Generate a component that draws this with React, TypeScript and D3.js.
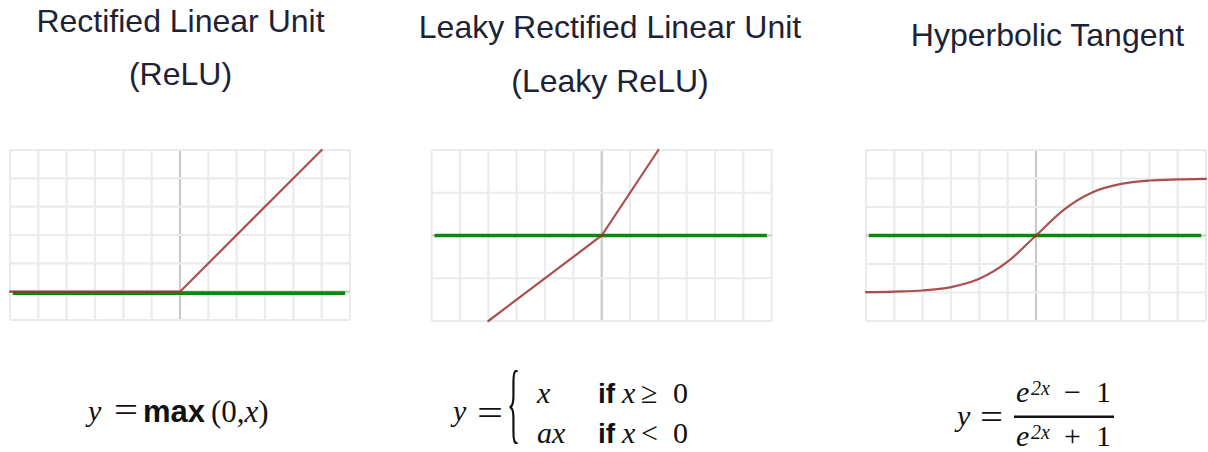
import React from "react";
import * as d3 from "d3";

// Panel titles
const titleLines: string[][] = [
  ["Rectified Linear Unit", "(ReLU)"],
  ["Leaky Rectified Linear Unit", "(Leaky ReLU)"],
  ["Hyperbolic Tangent"],
];

// Curve samples (x, y) for each activation
const reluX = [-6, 0, 5];
const reluY = [0, 0, 5];

const leakyX = [-4, 0, 2];
const leakyY = [-2, 0, 2];

const tanhX = [-6, -5, -4, -3, -2, -1, 0, 1, 2, 3, 4, 5, 6];
const tanhY = [-1.99, -1.97, -1.93, -1.81, -1.52, -0.92, 0, 0.92, 1.52, 1.81, 1.93, 1.97, 1.99];

// Green reference line at y = 0
const baseX = [-5.9, 5.83];
const baseY = [0, 0];

// Axis domains per panel
const xDomain: [number, number] = [-6, 6];
const yDomains: [number, number][] = [
  [-1, 5],
  [-2, 2],
  [-3, 3],
];

const W = 1208;
const H = 452;

const RED = "#9c3030";
const GREEN = "#088a08";
const GRID = "#ebebeb";
const AXIS = "#c9c9c9";
const TEXT = "#1d2236";

type PanelSpec = {
  left: number;
  right: number;
  top: number;
  bottom: number;
  yDomain: [number, number];
  xs: number[];
  ys: number[];
  smooth: boolean;
  greenShift: number;
};

function Panel({ p }: { p: PanelSpec }) {
  const x = d3.scaleLinear().domain(xDomain).range([p.left, p.right]);
  const y = d3.scaleLinear().domain(p.yDomain).range([p.bottom, p.top]);
  const xt = d3.range(xDomain[0], xDomain[1] + 1, 1);
  const yt = d3.range(p.yDomain[0], p.yDomain[1] + 1, 1);
  const line = d3
    .line<[number, number]>()
    .x((d) => x(d[0]))
    .y((d) => y(d[1]))
    .curve(p.smooth ? d3.curveMonotoneX : d3.curveLinear);
  const curvePts = p.xs.map((v, i) => [v, p.ys[i]] as [number, number]);
  const basePts = baseX.map((v, i) => [v, baseY[i]] as [number, number]);
  return (
    <g>
      {xt.map((t) => (
        <line key={"vx" + t} x1={x(t)} x2={x(t)} y1={p.top} y2={p.bottom} stroke={t === 0 ? AXIS : GRID} strokeWidth={2.2} />
      ))}
      {yt.map((t) => (
        <line key={"hy" + t} x1={p.left} x2={p.right} y1={y(t)} y2={y(t)} stroke={t === 0 ? AXIS : GRID} strokeWidth={2.2} />
      ))}
      <path d={line(basePts) || ""} transform={`translate(0,${p.greenShift})`} fill="none" stroke={GREEN} strokeWidth={3.6} />
      <path d={line(curvePts) || ""} fill="none" stroke={RED} strokeOpacity={0.85} strokeWidth={2.2} strokeLinecap="round" />
    </g>
  );
}

export default function App() {
  const panels: PanelSpec[] = [
    { left: 10, right: 350, top: 150, bottom: 320, yDomain: yDomains[0], xs: reluX, ys: reluY, smooth: false, greenShift: 1.5 },
    { left: 431.7, right: 771.7, top: 150, bottom: 321, yDomain: yDomains[1], xs: leakyX, ys: leakyY, smooth: false, greenShift: 0 },
    { left: 866, right: 1206, top: 150, bottom: 321, yDomain: yDomains[2], xs: tanhX, ys: tanhY, smooth: true, greenShift: 0 },
  ];
  const titlePos = [
    { cx: 180.5, y: [32, 85] },
    { cx: 610, y: [38, 92] },
    { cx: 1047.5, y: [46] },
  ];
  const sans = "'Liberation Sans', Arial, Helvetica, sans-serif";
  const serif = "'Liberation Serif', 'Times New Roman', serif";
  return (
    <svg width={W} height={H} style={{ position: "absolute", left: 0, top: 0, background: "#fff" }}>
      <rect width={W} height={H} fill="#fff" />
      {titleLines.map((lines, i) =>
        lines.map((s, j) => (
          <text key={`t${i}-${j}`} x={titlePos[i].cx} y={titlePos[i].y[j]} textAnchor="middle" fontFamily={sans} fontSize={32} fill={TEXT}>
            {s}
          </text>
        ))
      )}
      {panels.map((p, i) => (
        <Panel key={i} p={p} />
      ))}

      {/* ReLU formula */}
      <g fontFamily={serif} fontSize={30} fill="#111">
        <text x={88} y={421} fontStyle="italic">y</text>
        <text x={114} y={422} fontSize={36} textLength={24} lengthAdjust="spacingAndGlyphs">=</text>
        <text x={143} y={422} fontFamily={sans} fontWeight="bold" fontSize={31}>max</text>
        <text x={211} y={422} fontSize={31}>
          (0,<tspan fontStyle="italic">x</tspan>)
        </text>
      </g>

      {/* Leaky ReLU formula */}
      <g fontFamily={serif} fontSize={30} fill="#111">
        <text x={453} y={421} fontStyle="italic">y</text>
        <text x={477} y={425} fontSize={36} textLength={26} lengthAdjust="spacingAndGlyphs">=</text>
        <text transform="translate(507,431.5) scale(0.8,2.6)" fontSize={34}>{"{"}</text>
        <text x={537} y={403} fontStyle="italic">x</text>
        <text x={598} y={403} fontFamily={sans} fontWeight="bold" fontSize={28}>if</text>
        <text x={622} y={403} fontStyle="italic">x</text>
        <text x={641} y={403}>≥</text>
        <text x={673} y={403}>0</text>
        <text x={537} y={443} fontStyle="italic">ax</text>
        <text x={598} y={443} fontFamily={sans} fontWeight="bold" fontSize={28}>if</text>
        <text x={622} y={443} fontStyle="italic">x</text>
        <text x={641} y={443}>&lt;</text>
        <text x={673} y={443}>0</text>
      </g>

      {/* tanh formula */}
      <g fontFamily={serif} fontSize={30} fill="#111">
        <text x={957} y={426} fontStyle="italic">y</text>
        <text x={980} y={429} fontSize={36} textLength={23} lengthAdjust="spacingAndGlyphs">=</text>
        <line x1={1014} x2={1114} y1={416.7} y2={416.7} stroke="#111" strokeWidth={2.5} />
        <text x={1016} y={402} fontStyle="italic">e</text>
        <text x={1031} y={395} fontSize={20} fontStyle="italic">2x</text>
        <text x={1064} y={402}>−</text>
        <text x={1096} y={402}>1</text>
        <text x={1016} y={446} fontStyle="italic">e</text>
        <text x={1031} y={439} fontSize={20} fontStyle="italic">2x</text>
        <text x={1064} y={446}>+</text>
        <text x={1096} y={446}>1</text>
      </g>
    </svg>
  );
}
